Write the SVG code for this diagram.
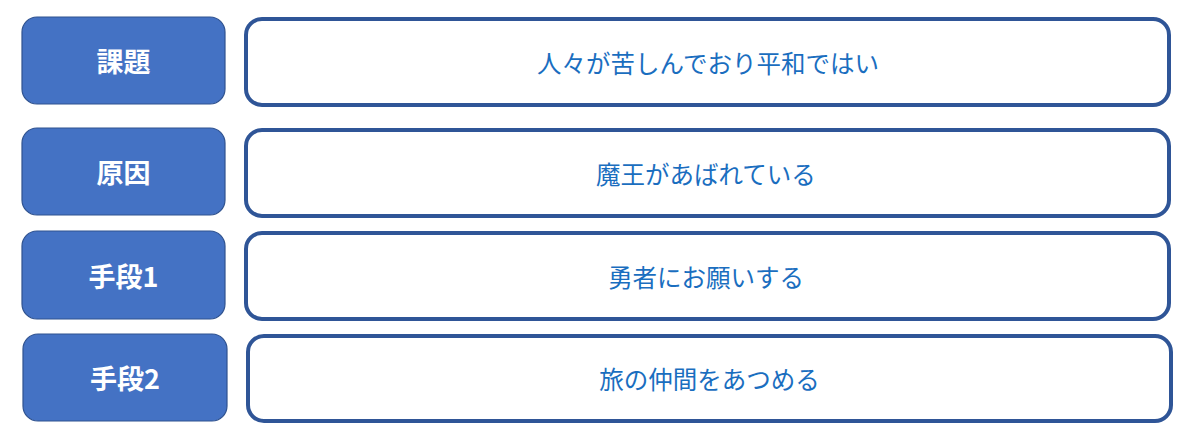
<svg xmlns="http://www.w3.org/2000/svg" width="1200" height="438" viewBox="0 0 1200 438">
<style>
.lbl{fill:#4472C4;stroke:#2F528F;stroke-width:1.2}
.lt{font-family:"Noto Sans CJK JP","Noto Sans",sans-serif;font-weight:bold;font-size:27px;fill:#FFFFFF;text-anchor:middle;dominant-baseline:central}
.box{fill:#FFFFFF;stroke:#2F5597;stroke-width:4}
.bt{font-family:"Noto Sans CJK JP","Noto Sans",sans-serif;font-size:24.5px;fill:#1A6EBF;text-anchor:middle;dominant-baseline:central}
</style>
<rect width="1200" height="438" fill="#FFFFFF"/>
<g id="connectors"></g>
<g id="label-kadai">
<rect class="lbl" x="22" y="17" width="203" height="87" rx="15"/>
<text class="lt" x="123.5" y="60.5">課題</text>
</g>
<g id="box-kadai">
<rect class="box" x="246" y="19" width="923" height="86" rx="16"/>
<text class="bt" x="708" y="62.5">人々が苦しんでおり平和ではい</text>
</g>
<g id="label-genin">
<rect class="lbl" x="22" y="128" width="203" height="87" rx="15"/>
<text class="lt" x="123.5" y="171.5">原因</text>
</g>
<g id="box-genin">
<rect class="box" x="246" y="130" width="923" height="86" rx="16"/>
<text class="bt" x="706" y="173">魔王があばれている</text>
</g>
<g id="label-shudan1">
<rect class="lbl" x="22" y="231" width="203" height="88" rx="15"/>
<text class="lt" x="123.5" y="275">手段1</text>
</g>
<g id="box-shudan1">
<rect class="box" x="246" y="233" width="923" height="86" rx="16"/>
<text class="bt" x="706" y="276">勇者にお願いする</text>
</g>
<g id="label-shudan2">
<rect class="lbl" x="23" y="334" width="204" height="87" rx="15"/>
<text class="lt" x="125" y="377">手段2</text>
</g>
<g id="box-shudan2">
<rect class="box" x="248" y="336" width="923" height="85" rx="16"/>
<text class="bt" x="709.5" y="378.5">旅の仲間をあつめる</text>
</g>
</svg>
